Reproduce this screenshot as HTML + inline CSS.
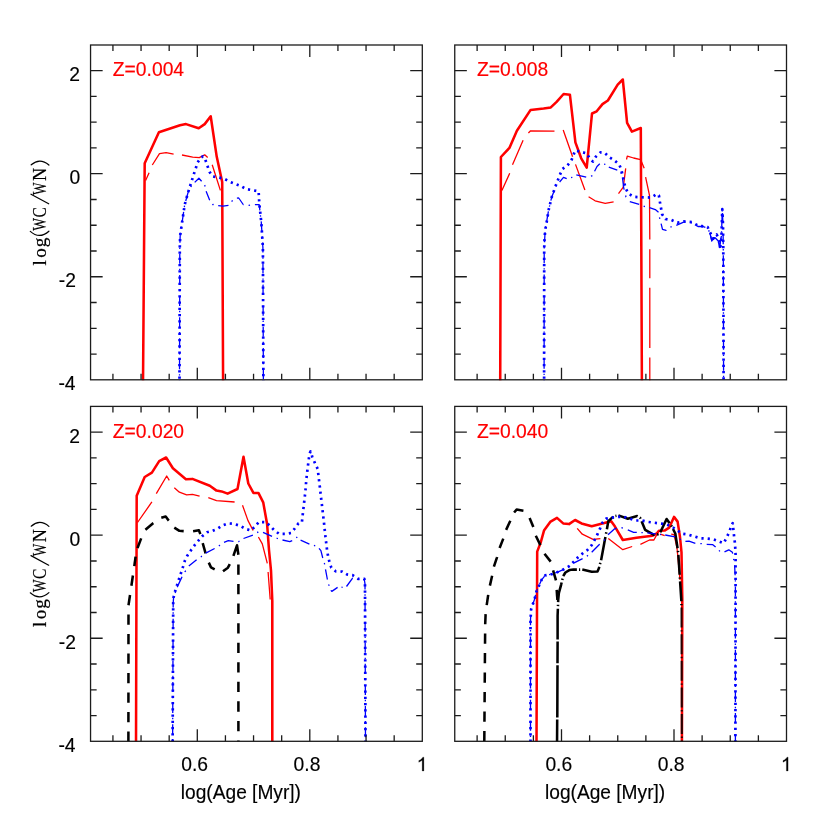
<!DOCTYPE html>
<html><head><meta charset="utf-8"><title>log(WC/WN) vs log(Age)</title>
<style>html,body{margin:0;padding:0;background:#fff}body{width:830px;height:830px;overflow:hidden;font-family:"Liberation Sans",sans-serif}</style></head>
<body>
<svg width="830" height="830" viewBox="0 0 830 830" style="display:block;will-change:transform;font-family:'Liberation Sans',sans-serif">
<rect width="830" height="830" fill="#fff"/>
<defs>
<clipPath id="cp1"><rect x="90.55" y="45.0" width="331.75" height="335.30"/></clipPath>
<clipPath id="cp2"><rect x="454.75" y="45.0" width="331.75" height="335.30"/></clipPath>
<clipPath id="cp3"><rect x="90.55" y="406.4" width="331.75" height="335.40"/></clipPath>
<clipPath id="cp4"><rect x="454.75" y="406.4" width="331.75" height="335.40"/></clipPath>
</defs>
<g clip-path="url(#cp1)">
<path d="M145.6,180.6 L149.1,172.8 M152.3,165.0 L159.5,153.6 L166.1,152.7 L173.6,154.2 M182.0,155.0 L192.7,157.2 L199.3,157.6 L204.7,154.8 L207.7,157.6 M212.2,164.8 L220.4,190.4" fill="none" stroke="#ff0000" stroke-width="1.3" stroke-linejoin="round"/>
<path d="M143.0,385.0 L144.7,163.3 L158.9,132.3 L180.0,125.3 L186.0,124.1 L198.7,128.3 L204.7,124.1 L210.7,116.3 L216.7,156.6 L222.2,181.9 L223.1,385.0" fill="none" stroke="#ff0000" stroke-width="2.55" stroke-linejoin="round"/>
<path d="M179.5,385.0 L179.8,247.0 L180.2,235.2 L182.0,223.0 L184.7,204.7 L188.1,192.4 L191.8,185.0 L194.7,182.4" fill="none" stroke="#0000ff" stroke-width="1.3" stroke-dasharray="10.00 4.90 1.40 4.80" stroke-dashoffset="5.43" stroke-linejoin="round"/><path d="M194.7,182.4 L198.9,178.2 L201.6,181.2 L204.9,185.7 L206.1,191.2" fill="none" stroke="#0000ff" stroke-width="1.3" stroke-dasharray="10.04 4.92 1.41 4.82" stroke-dashoffset="0.00" stroke-linejoin="round"/><path d="M206.1,191.2 L209.8,200.5 L212.8,204.5 L218.2,205.7" fill="none" stroke="#0000ff" stroke-width="1.3" stroke-dasharray="9.73 4.77 1.36 4.67" stroke-dashoffset="0.00" stroke-linejoin="round"/><path d="M218.2,205.7 L223.0,206.2 L229.0,205.3 L232.7,200.2 L236.9,198.1" fill="none" stroke="#0000ff" stroke-width="1.3" stroke-dasharray="10.37 5.08 1.45 4.98" stroke-dashoffset="0.00" stroke-linejoin="round"/><path d="M236.9,198.1 L238.7,198.0 L243.2,204.5 L248.9,205.3 L254.9,204.7" fill="none" stroke="#0000ff" stroke-width="1.3" stroke-dasharray="10.19 4.99 1.43 4.89" stroke-dashoffset="0.00" stroke-linejoin="round"/><path d="M254.9,204.7 L259.2,204.7 L261.3,222.4 L262.9,247.5 L263.4,385.0" fill="none" stroke="#0000ff" stroke-width="1.3" stroke-dasharray="10.00 4.90 1.40 4.80" stroke-dashoffset="0.00" stroke-linejoin="round"/>
<path d="M179.5,385.0 L179.8,247.0 L180.2,235.2 L182.0,223.0 L184.7,204.7 L188.1,192.4 L193.7,174.6 L197.7,162.3 L201.0,157.5 L203.0,156.3 L205.2,159.3 L207.3,165.5 L209.5,171.8 L212.4,176.4 L224.0,178.6 L229.9,181.8 L240.8,186.0 L245.9,189.0 L258.6,191.3 L259.3,203.6 L261.3,222.4 L262.9,247.5 L263.4,385.0" fill="none" stroke="#0000ff" stroke-width="2.7" stroke-dasharray="2.20 4.05" stroke-dashoffset="0.00" stroke-linejoin="round"/>
</g>
<rect x="90.55" y="45.0" width="331.75" height="334.80" fill="none" stroke="#1c1c1c" stroke-width="1.3"/><path d="M394.18,379.8v-6.1M394.18,45.0v6.1M366.05,379.8v-6.1M366.05,45.0v6.1M337.93,379.8v-6.1M337.93,45.0v6.1M309.80,379.8v-12.1M309.80,45.0v12.1M281.68,379.8v-6.1M281.68,45.0v6.1M253.55,379.8v-6.1M253.55,45.0v6.1M225.43,379.8v-6.1M225.43,45.0v6.1M197.30,379.8v-12.1M197.30,45.0v12.1M169.18,379.8v-6.1M169.18,45.0v6.1M141.05,379.8v-6.1M141.05,45.0v6.1M112.93,379.8v-6.1M112.93,45.0v6.1M90.55,354.04h6.1M422.3,354.04h-6.1M90.55,328.28h6.1M422.3,328.28h-6.1M90.55,302.52h6.1M422.3,302.52h-6.1M90.55,276.76h12.1M422.3,276.76h-12.1M90.55,251.00h6.1M422.3,251.00h-6.1M90.55,225.24h6.1M422.3,225.24h-6.1M90.55,199.48h6.1M422.3,199.48h-6.1M90.55,173.72h12.1M422.3,173.72h-12.1M90.55,147.96h6.1M422.3,147.96h-6.1M90.55,122.20h6.1M422.3,122.20h-6.1M90.55,96.44h6.1M422.3,96.44h-6.1M90.55,70.68h12.1M422.3,70.68h-12.1" fill="none" stroke="#1c1c1c" stroke-width="1.3"/>
<text x="112.8" y="76.2" font-size="19.3" fill="#ff0000" stroke="#ff0000" stroke-width="0.15">Z=0.004</text>
<g clip-path="url(#cp2)">
<path d="M501.9,190.6 L509.7,173.3 M512.5,164.8 L523.1,140.2 M528.4,133.0 L530.6,130.8 L554.5,131.1 M563.2,130.0 L572.6,156.7 M575.5,164.4 L584.9,190.0 M588.6,196.8 L595.1,200.8 L605.2,203.3 L613.6,201.9 M618.5,193.6 L623.3,187.1 L625.7,168.3 M626.5,159.5 L627.3,156.2 L633.6,158.0 L640.6,159.6 L644.2,168.3 M645.6,177.1 L649.5,195.4 L649.8,239.4 M649.8,249.2 L649.8,278.2 M649.8,287.7 L649.8,348.0 M649.8,357.5 L649.8,385.0" fill="none" stroke="#ff0000" stroke-width="1.3" stroke-linejoin="round"/>
<path d="M500.2,385.0 L500.9,157.0 L509.4,147.9 L516.9,130.8 L530.6,109.9 L543.6,108.4 L550.8,107.4 L556.6,101.9 L563.6,94.0 L569.9,94.7 L575.4,142.4 L581.2,158.3 L586.7,167.7 L592.0,113.5 L596.7,111.3 L602.5,104.1 L607.9,100.5 L617.7,84.6 L622.8,79.5 L627.1,122.9 L631.9,131.6 L640.8,128.0 L641.9,385.0" fill="none" stroke="#ff0000" stroke-width="2.55" stroke-linejoin="round"/>
<path d="M544.1,385.0 L544.2,248.5 L545.2,229.8 L548.8,209.2 L551.7,197.2 L556.7,184.2 L559.6,182.0" fill="none" stroke="#0000ff" stroke-width="1.3" stroke-dasharray="10.00 4.90 1.40 4.80" stroke-dashoffset="4.95" stroke-linejoin="round"/><path d="M559.6,182.0 L563.5,177.3 L567.6,178.9 L571.9,177.3 L576.3,174.8" fill="none" stroke="#0000ff" stroke-width="1.3" stroke-dasharray="9.55 4.68 1.34 4.59" stroke-dashoffset="0.00" stroke-linejoin="round"/><path d="M576.3,174.8 L587.1,177.4 L591.9,175.8 L594.6,171.2" fill="none" stroke="#0000ff" stroke-width="1.3" stroke-dasharray="10.19 4.99 1.43 4.89" stroke-dashoffset="0.00" stroke-linejoin="round"/><path d="M594.6,171.2 L597.0,166.5 L600.1,163.5 L605.2,164.4 L608.8,167.2" fill="none" stroke="#0000ff" stroke-width="1.3" stroke-dasharray="9.16 4.49 1.28 4.40" stroke-dashoffset="0.00" stroke-linejoin="round"/><path d="M608.8,167.2 L618.2,170.5 L620.5,171.5 L622.5,177.7" fill="none" stroke="#0000ff" stroke-width="1.3" stroke-dasharray="9.00 4.41 1.26 4.32" stroke-dashoffset="0.00" stroke-linejoin="round"/><path d="M622.5,177.7 L623.7,187.8 L626.0,197.0 L629.8,201.6" fill="none" stroke="#0000ff" stroke-width="1.3" stroke-dasharray="12.14 5.95 1.70 5.83" stroke-dashoffset="0.00" stroke-linejoin="round"/><path d="M629.8,201.6 L639.9,204.5 L644.9,206.6 L649.5,207.7" fill="none" stroke="#0000ff" stroke-width="1.3" stroke-dasharray="9.79 4.80 1.37 4.70" stroke-dashoffset="0.00" stroke-linejoin="round"/><path d="M649.5,207.7 L655.3,209.6 L658.2,212.0 L659.6,217.8 L661.1,223.6" fill="none" stroke="#0000ff" stroke-width="1.3" stroke-dasharray="10.34 5.07 1.45 4.96" stroke-dashoffset="0.00" stroke-linejoin="round"/><path d="M661.1,223.6 L662.5,229.4 L666.1,230.4 L671.2,226.8 L676.3,225.3" fill="none" stroke="#0000ff" stroke-width="1.3" stroke-dasharray="10.08 4.94 1.41 4.84" stroke-dashoffset="0.00" stroke-linejoin="round"/><path d="M676.3,225.3 L684.2,221.9 L692.5,222.8 L698.0,226.5 L702.4,226.4 L707.6,228.0 L710.0,233.3 L711.8,240.8 L713.0,238.0 L715.4,238.0 L718.3,241.0 L719.4,247.5 L720.5,241.0 L721.4,236.0 L721.9,222.0 L722.3,209.2 L723.0,225.0 L723.3,250.0 L723.6,385.0" fill="none" stroke="#0000ff" stroke-width="1.3" stroke-dasharray="10.00 4.90 1.40 4.80" stroke-dashoffset="0.00" stroke-linejoin="round"/>
<path d="M544.1,385.0 L544.2,248.5 L544.5,239.9 L545.2,229.8 L546.6,222.5 L548.8,209.2 L551.7,197.2 L555.3,186.8 L559.9,174.8 L562.5,169.0 L566.9,165.9 L570.9,161.5 L572.9,156.7 L575.1,150.5 L580.6,151.7 L586.8,153.4 L590.0,158.9 L592.9,161.5 L595.8,156.7 L600.4,152.4 L604.9,153.1 L609.2,157.2 L614.6,160.6 L619.2,164.4 L621.4,169.8 L622.8,176.3 L625.4,187.8 L628.3,193.6 L633.8,196.8 L640.2,197.2 L651.4,197.6 L656.7,194.0 L658.9,195.4 L659.9,201.9 L662.1,214.2 L665.4,219.0 L671.5,220.0 L677.4,222.6 L683.5,221.4 L692.5,222.2 L698.0,225.8 L701.9,226.1 L707.6,227.2 L710.2,232.7 L713.1,238.8 L716.7,234.5 L719.6,241.0 L720.4,246.7 L721.4,238.0 L721.8,225.0 L722.3,209.2 L723.0,225.0 L723.3,250.0 L723.6,385.0" fill="none" stroke="#0000ff" stroke-width="2.7" stroke-dasharray="2.20 4.05" stroke-dashoffset="0.00" stroke-linejoin="round"/>
<path d="M710.0,233.3 L711.8,240.8 L713.0,238.0 L715.4,238.0 L718.3,241.0 L719.4,247.5 L720.5,241.0 L721.4,236.0" fill="none" stroke="#0000ff" stroke-width="1.3" stroke-linejoin="round"/>
</g>
<rect x="454.75" y="45.0" width="331.75" height="334.80" fill="none" stroke="#1c1c1c" stroke-width="1.3"/><path d="M758.38,379.8v-6.1M758.38,45.0v6.1M730.25,379.8v-6.1M730.25,45.0v6.1M702.12,379.8v-6.1M702.12,45.0v6.1M674.00,379.8v-12.1M674.00,45.0v12.1M645.88,379.8v-6.1M645.88,45.0v6.1M617.75,379.8v-6.1M617.75,45.0v6.1M589.62,379.8v-6.1M589.62,45.0v6.1M561.50,379.8v-12.1M561.50,45.0v12.1M533.38,379.8v-6.1M533.38,45.0v6.1M505.25,379.8v-6.1M505.25,45.0v6.1M477.12,379.8v-6.1M477.12,45.0v6.1M454.75,354.04h6.1M786.5,354.04h-6.1M454.75,328.28h6.1M786.5,328.28h-6.1M454.75,302.52h6.1M786.5,302.52h-6.1M454.75,276.76h12.1M786.5,276.76h-12.1M454.75,251.00h6.1M786.5,251.00h-6.1M454.75,225.24h6.1M786.5,225.24h-6.1M454.75,199.48h6.1M786.5,199.48h-6.1M454.75,173.72h12.1M786.5,173.72h-12.1M454.75,147.96h6.1M786.5,147.96h-6.1M454.75,122.20h6.1M786.5,122.20h-6.1M454.75,96.44h6.1M786.5,96.44h-6.1M454.75,70.68h12.1M786.5,70.68h-12.1" fill="none" stroke="#1c1c1c" stroke-width="1.3"/>
<text x="476.9" y="76.2" font-size="19.3" fill="#ff0000" stroke="#ff0000" stroke-width="0.15">Z=0.008</text>
<g clip-path="url(#cp3)">
<path d="M137.5,522.5 L151.9,501.9 M156.3,493.6 L166.7,476.0 L169.3,480.3 M174.3,487.8 L179.4,492.2 L186.6,494.8 L192.4,494.3 L199.6,496.2 M208.3,497.7 L216.5,500.6 L234.6,502.0 M242.5,505.2 L247.9,520.4 L253.1,530.5 M258.4,537.0 L262.3,543.9 L267.3,563.4 M268.1,572.0 L270.2,599.5" fill="none" stroke="#ff0000" stroke-width="1.3" stroke-linejoin="round"/>
<path d="M136.0,748.0 L136.7,495.8 L144.7,477.0 L151.9,472.6 L159.2,461.1 L166.1,457.5 L172.9,468.3 L185.9,479.2 L192.4,478.9 L209.8,485.7 L216.5,490.6 L221.6,491.4 L227.6,493.6 L237.5,489.0 L243.5,456.7 L248.3,483.5 L253.4,492.9 L258.4,492.9 L263.2,502.3 L267.1,524.0 L269.0,550.0 L271.0,570.6 L272.3,601.0 L272.3,748.0" fill="none" stroke="#ff0000" stroke-width="2.55" stroke-linejoin="round"/>
<path d="M128.4,741.3 L128.5,605.2" fill="none" stroke="#000000" stroke-width="2.55" stroke-dasharray="10.20 9.30" stroke-dashoffset="0.40" stroke-linejoin="round"/><path d="M128.5,605.2 L130.0,595.1 L131.4,585.7" fill="none" stroke="#000000" stroke-width="2.55" stroke-dasharray="10.31 9.40" stroke-dashoffset="0.00" stroke-linejoin="round"/><path d="M131.4,585.7 L134.3,566.1" fill="none" stroke="#000000" stroke-width="2.55" stroke-dasharray="10.36 9.45" stroke-dashoffset="0.00" stroke-linejoin="round"/><path d="M134.3,566.1 L135.7,556.0 L137.5,548.1" fill="none" stroke="#000000" stroke-width="2.55" stroke-dasharray="9.57 8.73" stroke-dashoffset="0.00" stroke-linejoin="round"/><path d="M137.5,548.1 L141.3,538.0 L145.4,529.8" fill="none" stroke="#000000" stroke-width="2.55" stroke-dasharray="10.44 9.52" stroke-dashoffset="0.00" stroke-linejoin="round"/><path d="M145.4,529.8 L153.1,523.3 L161.3,517.8" fill="none" stroke="#000000" stroke-width="2.55" stroke-dasharray="10.44 9.51" stroke-dashoffset="0.00" stroke-linejoin="round"/><path d="M161.3,517.8 L165.7,516.5 L168.6,520.4 L174.3,527.6" fill="none" stroke="#000000" stroke-width="2.55" stroke-dasharray="9.75 8.89" stroke-dashoffset="0.00" stroke-linejoin="round"/><path d="M174.3,527.6 L179.4,530.8 L184.5,531.2 L193.1,531.2" fill="none" stroke="#000000" stroke-width="2.55" stroke-dasharray="10.32 9.41" stroke-dashoffset="0.00" stroke-linejoin="round"/><path d="M193.1,531.2 L198.9,530.2 L200.4,534.3 L202.7,543.1" fill="none" stroke="#000000" stroke-width="2.55" stroke-dasharray="10.12 9.23" stroke-dashoffset="0.00" stroke-linejoin="round"/><path d="M202.7,543.1 L205.6,553.3 L208.8,562.6" fill="none" stroke="#000000" stroke-width="2.55" stroke-dasharray="10.69 9.75" stroke-dashoffset="0.00" stroke-linejoin="round"/><path d="M208.8,562.6 L211.0,567.4 L214.9,569.4 L223.0,571.3" fill="none" stroke="#000000" stroke-width="2.55" stroke-dasharray="9.41 8.58" stroke-dashoffset="0.00" stroke-linejoin="round"/><path d="M223.0,571.3 L227.9,567.7 L229.8,564.1" fill="none" stroke="#000000" stroke-width="2.55" stroke-dasharray="10.20 9.30" stroke-dashoffset="0.00" stroke-linejoin="round"/>
<path d="M233.4,555.9 L237.0,545.3 L238.4,554.7" fill="none" stroke="#000000" stroke-width="2.55" stroke-linejoin="round"/>
<path d="M238.4,564.5 L238.4,748.0" fill="none" stroke="#000000" stroke-width="2.55" stroke-dasharray="10.30 9.25" stroke-dashoffset="0.00" stroke-linejoin="round"/>
<path d="M172.6,748.0 L173.2,603.0 L173.6,597.2 L177.2,587.1" fill="none" stroke="#0000ff" stroke-width="1.3" stroke-dasharray="10.00 4.90 1.40 4.80" stroke-dashoffset="7.26" stroke-linejoin="round"/><path d="M177.2,587.1 L182.3,576.3 L184.9,571.9 L188.8,566.1" fill="none" stroke="#0000ff" stroke-width="1.3" stroke-dasharray="11.40 5.58 1.60 5.47" stroke-dashoffset="0.00" stroke-linejoin="round"/><path d="M188.8,566.1 L196.7,559.6 L201.1,556.7 L205.7,553.1" fill="none" stroke="#0000ff" stroke-width="1.3" stroke-dasharray="10.11 4.96 1.42 4.85" stroke-dashoffset="0.00" stroke-linejoin="round"/><path d="M205.7,553.1 L216.3,547.6 L219.9,545.2 L224.0,542.4" fill="none" stroke="#0000ff" stroke-width="1.3" stroke-dasharray="10.06 4.93 1.41 4.83" stroke-dashoffset="0.00" stroke-linejoin="round"/><path d="M224.0,542.4 L228.3,540.7 L233.4,541.4 L238.4,541.7 L243.5,538.5" fill="none" stroke="#0000ff" stroke-width="1.3" stroke-dasharray="9.86 4.83 1.38 4.73" stroke-dashoffset="0.00" stroke-linejoin="round"/><path d="M243.5,538.5 L254.3,534.5 L258.7,531.6 L263.0,532.3" fill="none" stroke="#0000ff" stroke-width="1.3" stroke-dasharray="10.02 4.91 1.40 4.81" stroke-dashoffset="0.00" stroke-linejoin="round"/><path d="M263.0,532.3 L272.4,536.6 L277.5,538.5 L282.5,540.0" fill="none" stroke="#0000ff" stroke-width="1.3" stroke-dasharray="9.95 4.88 1.39 4.78" stroke-dashoffset="0.00" stroke-linejoin="round"/><path d="M282.5,540.0 L289.8,541.7 L293.4,540.2 L297.5,536.8 L300.6,540.2" fill="none" stroke="#0000ff" stroke-width="1.3" stroke-dasharray="10.11 4.95 1.41 4.85" stroke-dashoffset="0.00" stroke-linejoin="round"/><path d="M300.6,540.2 L310.4,544.5 L315.4,545.8 L319.0,548.4" fill="none" stroke="#0000ff" stroke-width="1.3" stroke-dasharray="9.63 4.72 1.35 4.62" stroke-dashoffset="0.00" stroke-linejoin="round"/><path d="M319.0,548.4 L320.9,550.6 L322.9,558.6 L324.5,563.6 L325.5,569.4" fill="none" stroke="#0000ff" stroke-width="1.3" stroke-dasharray="10.56 5.18 1.48 5.07" stroke-dashoffset="0.00" stroke-linejoin="round"/><path d="M325.5,569.4 L327.4,579.5 L328.9,585.0 L330.9,590.4" fill="none" stroke="#0000ff" stroke-width="1.3" stroke-dasharray="10.30 5.05 1.44 4.94" stroke-dashoffset="0.00" stroke-linejoin="round"/><path d="M330.9,590.4 L331.8,591.4 L338.6,586.7 L343.6,587.5 L346.5,586.5" fill="none" stroke="#0000ff" stroke-width="1.3" stroke-dasharray="8.41 4.12 1.18 4.04" stroke-dashoffset="0.00" stroke-linejoin="round"/><path d="M346.5,586.5 L352.6,578.1 L358.1,579.2 L364.3,579.5" fill="none" stroke="#0000ff" stroke-width="1.3" stroke-dasharray="10.52 5.15 1.47 5.05" stroke-dashoffset="0.00" stroke-linejoin="round"/><path d="M364.3,579.5 L365.0,583.9 L365.5,748.0" fill="none" stroke="#0000ff" stroke-width="1.3" stroke-dasharray="10.00 4.90 1.40 4.80" stroke-dashoffset="0.00" stroke-linejoin="round"/>
<path d="M172.6,748.0 L173.2,603.0 L173.6,597.2 L175.3,590.7 L179.1,578.7 L183.0,566.9 L184.9,560.7 L187.3,555.7 L191.0,550.2 L194.6,545.2 L198.2,540.8 L202.5,536.0 L207.2,532.2 L212.6,530.8 L217.5,528.8 L222.5,525.4 L228.1,523.4 L233.7,523.8 L240.2,525.8 L245.8,529.0 L251.0,530.5 L255.1,526.3 L258.9,521.9 L265.7,522.2 L270.1,525.8 L274.3,530.3 L279.2,533.9 L285.0,533.9 L291.1,533.0 L295.0,528.2 L298.5,523.2 L301.9,522.1 L302.5,516.5 L304.0,503.7 L305.4,491.2 L306.4,478.7 L307.9,466.1 L309.5,453.9 L310.5,451.4 L312.4,457.2 L315.1,463.5 L317.7,469.0 L318.4,475.1 L319.9,487.4 L321.3,499.8 L322.8,512.4 L324.2,524.7 L325.5,537.2 L327.0,549.6 L328.0,555.7 L329.4,561.9 L331.3,567.7 L335.7,571.3 L342.2,571.6 L347.2,574.5 L352.6,575.2 L358.1,578.8 L364.3,578.8 L365.0,583.9 L365.5,748.0" fill="none" stroke="#0000ff" stroke-width="2.7" stroke-dasharray="2.20 4.05" stroke-dashoffset="0.00" stroke-linejoin="round"/>
</g>
<rect x="90.55" y="406.4" width="331.75" height="334.90" fill="none" stroke="#1c1c1c" stroke-width="1.3"/><path d="M394.18,741.3v-6.1M394.18,406.4v6.1M366.05,741.3v-6.1M366.05,406.4v6.1M337.93,741.3v-6.1M337.93,406.4v6.1M309.80,741.3v-12.1M309.80,406.4v12.1M281.68,741.3v-6.1M281.68,406.4v6.1M253.55,741.3v-6.1M253.55,406.4v6.1M225.43,741.3v-6.1M225.43,406.4v6.1M197.30,741.3v-12.1M197.30,406.4v12.1M169.18,741.3v-6.1M169.18,406.4v6.1M141.05,741.3v-6.1M141.05,406.4v6.1M112.93,741.3v-6.1M112.93,406.4v6.1M90.55,715.54h6.1M422.3,715.54h-6.1M90.55,689.78h6.1M422.3,689.78h-6.1M90.55,664.02h6.1M422.3,664.02h-6.1M90.55,638.26h12.1M422.3,638.26h-12.1M90.55,612.50h6.1M422.3,612.50h-6.1M90.55,586.74h6.1M422.3,586.74h-6.1M90.55,560.98h6.1M422.3,560.98h-6.1M90.55,535.22h12.1M422.3,535.22h-12.1M90.55,509.46h6.1M422.3,509.46h-6.1M90.55,483.70h6.1M422.3,483.70h-6.1M90.55,457.94h6.1M422.3,457.94h-6.1M90.55,432.18h12.1M422.3,432.18h-12.1" fill="none" stroke="#1c1c1c" stroke-width="1.3"/>
<text x="112.8" y="437.6" font-size="19.3" fill="#ff0000" stroke="#ff0000" stroke-width="0.15">Z=0.020</text>
<g clip-path="url(#cp4)">
<path d="M577.2,528.4 L582.3,534.2 L593.1,539.3 L600.4,538.6 M608.3,538.6 L622.8,549.7 L632.2,546.5 M640.4,544.3 L649.5,540.0 L653.9,540.0 L656.7,534.9 L658.5,533.2 M660.4,534.2 L664.7,535.7 M671.2,534.2 L674.1,534.6 L677.0,548.0 L680.0,580.0" fill="none" stroke="#ff0000" stroke-width="1.3" stroke-linejoin="round"/>
<path d="M536.5,748.0 L537.2,551.6 L540.8,542.2 L544.0,530.6 L550.2,521.9 L557.0,517.9 L563.2,523.4 L569.0,524.1 L575.1,520.0 L581.5,523.4 L591.7,526.3 L600.4,524.1 L611.2,521.2 L614.8,526.3 L622.8,540.0 L636.5,537.8 L652.4,535.7 L656.7,533.5 L658.9,530.8 L664.6,530.6 L669.2,527.7 L674.0,516.9 L677.6,521.6 L680.0,537.0 L681.5,552.3 L682.3,600.0 L681.9,748.0" fill="none" stroke="#ff0000" stroke-width="2.55" stroke-linejoin="round"/>
<path d="M484.3,741.3 L484.9,660.0 L485.2,624.2" fill="none" stroke="#000000" stroke-width="2.55" stroke-dasharray="10.20 9.30" stroke-dashoffset="19.40" stroke-linejoin="round"/><path d="M485.2,624.2 L485.6,614.5 L486.7,605.1" fill="none" stroke="#000000" stroke-width="2.55" stroke-dasharray="10.03 9.14" stroke-dashoffset="0.00" stroke-linejoin="round"/><path d="M486.7,605.1 L488.2,594.9 L489.9,585.6" fill="none" stroke="#000000" stroke-width="2.55" stroke-dasharray="10.34 9.43" stroke-dashoffset="0.00" stroke-linejoin="round"/><path d="M489.9,585.6 L492.2,575.4 L493.9,566.7" fill="none" stroke="#000000" stroke-width="2.55" stroke-dasharray="10.11 9.21" stroke-dashoffset="0.00" stroke-linejoin="round"/><path d="M493.9,566.7 L497.0,557.3 L499.6,548.0" fill="none" stroke="#000000" stroke-width="2.55" stroke-dasharray="10.23 9.33" stroke-dashoffset="0.00" stroke-linejoin="round"/><path d="M499.6,548.0 L503.3,538.6 L506.1,529.9" fill="none" stroke="#000000" stroke-width="2.55" stroke-dasharray="10.06 9.18" stroke-dashoffset="0.00" stroke-linejoin="round"/><path d="M506.1,529.9 L510.5,520.5 L514.1,512.5" fill="none" stroke="#000000" stroke-width="2.55" stroke-dasharray="10.02 9.13" stroke-dashoffset="0.00" stroke-linejoin="round"/><path d="M514.1,512.5 L516.6,509.6 L524.6,510.9 L529.6,517.9" fill="none" stroke="#000000" stroke-width="2.55" stroke-dasharray="10.74 9.79" stroke-dashoffset="0.00" stroke-linejoin="round"/><path d="M529.6,517.9 L533.6,527.7 L535.8,535.7" fill="none" stroke="#000000" stroke-width="2.55" stroke-dasharray="9.88 9.01" stroke-dashoffset="0.00" stroke-linejoin="round"/><path d="M535.8,535.7 L540.4,545.1 L544.5,553.7" fill="none" stroke="#000000" stroke-width="2.55" stroke-dasharray="10.46 9.53" stroke-dashoffset="0.00" stroke-linejoin="round"/><path d="M544.5,553.7 L551.3,562.4 L553.1,570.4" fill="none" stroke="#000000" stroke-width="2.55" stroke-dasharray="10.07 9.18" stroke-dashoffset="0.00" stroke-linejoin="round"/><path d="M553.1,570.4 L556.0,580.5 L556.7,589.9" fill="none" stroke="#000000" stroke-width="2.55" stroke-dasharray="10.43 9.51" stroke-dashoffset="0.00" stroke-linejoin="round"/><path d="M556.7,589.9 L557.4,600.0" fill="none" stroke="#000000" stroke-width="2.55" stroke-dasharray="10.20 9.30" stroke-dashoffset="0.00" stroke-linejoin="round"/>
<path d="M557.0,748 L557.2,719.6 M557.3,717.6 L557.5,665.3 M557.5,663.3 L557.6,641.5 M557.6,639.5 L557.6,616" fill="none" stroke="#000" stroke-width="2.55"/>
<path d="M557.6,616.0 L558.2,600.0 L558.9,592.8 L561.1,584.8 L563.2,576.1" fill="none" stroke="#000000" stroke-width="2.55" stroke-dasharray="20.00 2.60 1.40 2.60" stroke-dashoffset="12.71" stroke-linejoin="round"/><path d="M563.2,576.1 L565.4,572.5 L569.8,569.9 L573.4,569.6 L577.7,569.6 L582.3,569.6" fill="none" stroke="#000000" stroke-width="2.55" stroke-dasharray="16.42 2.13 1.15 2.13" stroke-dashoffset="0.00" stroke-linejoin="round"/><path d="M582.3,569.6 L591.7,571.8 L597.5,571.4 L598.9,568.2 L599.6,565.3 L601.1,560.2" fill="none" stroke="#000000" stroke-width="2.55" stroke-dasharray="20.50 2.66 1.43 2.66" stroke-dashoffset="0.00" stroke-linejoin="round"/><path d="M601.1,560.2 L604.7,540.7 L605.6,536.0 L606.9,529.2" fill="none" stroke="#000000" stroke-width="2.55" stroke-dasharray="23.71 3.08 1.66 3.08" stroke-dashoffset="0.00" stroke-linejoin="round"/><path d="M606.9,529.2 L608.3,521.2 L611.9,517.9 L614.8,516.1 L618.4,515.4" fill="none" stroke="#000000" stroke-width="2.55" stroke-dasharray="15.10 1.96 1.06 1.96" stroke-dashoffset="0.00" stroke-linejoin="round"/><path d="M618.4,515.4 L627.8,518.7 L637.2,516.1 L640.1,517.9 L641.6,521.2" fill="none" stroke="#000000" stroke-width="2.55" stroke-dasharray="20.12 2.62 1.41 2.62" stroke-dashoffset="0.00" stroke-linejoin="round"/><path d="M641.6,521.2 L645.2,529.9 L653.9,534.9 L658.2,534.2 L660.8,531.3 L666.6,519.0 L671.7,526.3 L675.3,533.5 L678.2,552.3 L680.0,580.0 L681.3,600.0 L681.5,607.6" fill="none" stroke="#000000" stroke-width="2.55" stroke-dasharray="20.00 2.60 1.40 2.60" stroke-dashoffset="0.00" stroke-linejoin="round"/>
<path d="M681.5,607.6 L681.9,748.0" fill="none" stroke-opacity="0.85" stroke="#000000" stroke-width="2.1" stroke-dasharray="20.00 2.60 1.40 2.60" stroke-dashoffset="0.00" stroke-linejoin="round"/>
<path d="M530.5,748.0 L530.5,619.8 L531.2,608.9 L534.3,600.0 L536.5,591.3 L541.6,579.8 L545.2,575.4 L552.4,574.0 L558.2,571.8 L563.2,569.6 L569.0,566.5 L573.6,563.1" fill="none" stroke="#0000ff" stroke-width="1.3" stroke-dasharray="10.00 4.90 1.40 4.80" stroke-dashoffset="3.92" stroke-linejoin="round"/><path d="M573.6,563.1 L583.7,558.1 L587.3,555.9 L591.7,552.3" fill="none" stroke="#0000ff" stroke-width="1.3" stroke-dasharray="10.04 4.92 1.40 4.82" stroke-dashoffset="0.00" stroke-linejoin="round"/><path d="M591.7,552.3 L599.6,544.3 L604.0,540.7 L608.0,534.7" fill="none" stroke="#0000ff" stroke-width="1.3" stroke-dasharray="11.44 5.61 1.60 5.49" stroke-dashoffset="0.00" stroke-linejoin="round"/><path d="M608.0,534.7 L614.1,529.2 L619.2,527.0 L623.5,528.4 L627.8,529.9" fill="none" stroke="#0000ff" stroke-width="1.3" stroke-dasharray="10.83 5.30 1.52 5.20" stroke-dashoffset="0.00" stroke-linejoin="round"/><path d="M627.8,529.9 L633.6,532.3 L647.3,532.8" fill="none" stroke="#0000ff" stroke-width="1.3" stroke-dasharray="9.47 4.64 1.33 4.55" stroke-dashoffset="0.00" stroke-linejoin="round"/><path d="M647.3,532.8 L664.0,534.9 L665.2,535.0" fill="none" stroke="#0000ff" stroke-width="1.3" stroke-dasharray="8.55 4.19 1.20 4.10" stroke-dashoffset="0.00" stroke-linejoin="round"/><path d="M665.2,535.0 L676.3,537.1 L680.4,539.3 L685.4,541.4" fill="none" stroke="#0000ff" stroke-width="1.3" stroke-dasharray="10.13 4.96 1.42 4.86" stroke-dashoffset="0.00" stroke-linejoin="round"/><path d="M685.4,541.4 L689.0,541.2 L696.0,543.6 L701.3,543.6 L706.7,544.3" fill="none" stroke="#0000ff" stroke-width="1.3" stroke-dasharray="10.31 5.05 1.44 4.95" stroke-dashoffset="0.00" stroke-linejoin="round"/><path d="M706.7,544.3 L712.5,544.6 L716.5,547.7 L720.1,551.6 L724.5,551.9" fill="none" stroke="#0000ff" stroke-width="1.3" stroke-dasharray="9.76 4.78 1.37 4.68" stroke-dashoffset="0.00" stroke-linejoin="round"/><path d="M724.5,551.9 L728.8,549.8 L732.4,552.3 L733.6,558.8 L734.6,565.3" fill="none" stroke="#0000ff" stroke-width="1.3" stroke-dasharray="10.59 5.19 1.48 5.09" stroke-dashoffset="0.00" stroke-linejoin="round"/><path d="M734.6,565.3 L735.4,580.0 L735.4,748.0" fill="none" stroke="#0000ff" stroke-width="1.3" stroke-dasharray="10.00 4.90 1.40 4.80" stroke-dashoffset="0.00" stroke-linejoin="round"/>
<path d="M530.5,748.0 L530.5,619.8 L531.2,608.9 L534.3,600.0 L536.5,591.3 L539.1,585.5 L541.6,579.8 L545.2,575.4 L552.4,574.0 L558.2,571.8 L563.2,569.6 L569.0,566.3 L573.4,562.1 L578.0,557.3 L582.3,553.7 L587.3,550.1 L591.7,545.1 L594.6,540.0 L597.5,534.2 L600.4,527.7 L602.5,522.6 L606.1,518.7 L611.9,517.6 L618.4,516.9 L624.2,516.9 L630.0,518.7 L635.8,520.5 L641.6,520.5 L648.1,521.9 L659.6,523.4 L665.4,524.1 L671.9,526.6 L677.6,530.6 L682.5,533.8 L688.3,534.6 L694.1,536.4 L700.6,538.3 L706.8,538.6 L713.2,539.3 L719.1,541.4 L723.7,543.2 L726.6,537.8 L729.5,531.3 L731.7,524.8 L732.7,523.1 L733.4,529.9 L734.1,536.4 L734.9,542.9 L735.3,548.7 L735.6,555.2 L735.4,748.0" fill="none" stroke="#0000ff" stroke-width="2.7" stroke-dasharray="2.20 4.05" stroke-dashoffset="0.00" stroke-linejoin="round"/>
</g>
<rect x="454.75" y="406.4" width="331.75" height="334.90" fill="none" stroke="#1c1c1c" stroke-width="1.3"/><path d="M758.38,741.3v-6.1M758.38,406.4v6.1M730.25,741.3v-6.1M730.25,406.4v6.1M702.12,741.3v-6.1M702.12,406.4v6.1M674.00,741.3v-12.1M674.00,406.4v12.1M645.88,741.3v-6.1M645.88,406.4v6.1M617.75,741.3v-6.1M617.75,406.4v6.1M589.62,741.3v-6.1M589.62,406.4v6.1M561.50,741.3v-12.1M561.50,406.4v12.1M533.38,741.3v-6.1M533.38,406.4v6.1M505.25,741.3v-6.1M505.25,406.4v6.1M477.12,741.3v-6.1M477.12,406.4v6.1M454.75,715.54h6.1M786.5,715.54h-6.1M454.75,689.78h6.1M786.5,689.78h-6.1M454.75,664.02h6.1M786.5,664.02h-6.1M454.75,638.26h12.1M786.5,638.26h-12.1M454.75,612.50h6.1M786.5,612.50h-6.1M454.75,586.74h6.1M786.5,586.74h-6.1M454.75,560.98h6.1M786.5,560.98h-6.1M454.75,535.22h12.1M786.5,535.22h-12.1M454.75,509.46h6.1M786.5,509.46h-6.1M454.75,483.70h6.1M786.5,483.70h-6.1M454.75,457.94h6.1M786.5,457.94h-6.1M454.75,432.18h12.1M786.5,432.18h-12.1" fill="none" stroke="#1c1c1c" stroke-width="1.3"/>
<text x="476.9" y="437.6" font-size="19.3" fill="#ff0000" stroke="#ff0000" stroke-width="0.15">Z=0.040</text>
<text x="80.1" y="81.0" font-size="19.3" text-anchor="end" fill="#000" stroke="#000" stroke-width="0.15">2</text>
<text x="80.3" y="184.0" font-size="19.3" text-anchor="end" fill="#000" stroke="#000" stroke-width="0.15">0</text>
<text x="75.9" y="287.1" font-size="19.3" text-anchor="end" fill="#000" stroke="#000" stroke-width="0.15">-2</text>
<text x="75.6" y="390.1" font-size="19.3" text-anchor="end" fill="#000" stroke="#000" stroke-width="0.15">-4</text>
<text x="80.1" y="442.5" font-size="19.3" text-anchor="end" fill="#000" stroke="#000" stroke-width="0.15">2</text>
<text x="80.3" y="545.5" font-size="19.3" text-anchor="end" fill="#000" stroke="#000" stroke-width="0.15">0</text>
<text x="75.9" y="648.6" font-size="19.3" text-anchor="end" fill="#000" stroke="#000" stroke-width="0.15">-2</text>
<text x="75.6" y="751.6" font-size="19.3" text-anchor="end" fill="#000" stroke="#000" stroke-width="0.15">-4</text>
<text x="194.6" y="771.0" font-size="19.3" text-anchor="middle" fill="#000" stroke="#000" stroke-width="0.15">0.6</text>
<text x="307.0" y="771.0" font-size="19.3" text-anchor="middle" fill="#000" stroke="#000" stroke-width="0.15">0.8</text>
<path transform="translate(416.7,771.0) scale(0.00942)" d="M763 0H583V-1147Q518 -1085 412.5 -1023T223 -930V-1104Q374 -1175 487 -1276T647 -1472H763Z" fill="#000" stroke="#000" stroke-width="25"/>
<text x="180.8" y="799.4" font-size="19.3" textLength="120.2" lengthAdjust="spacingAndGlyphs" fill="#000" stroke="#000" stroke-width="0.15">log(Age [Myr])</text>
<text x="558.8" y="771.0" font-size="19.3" text-anchor="middle" fill="#000" stroke="#000" stroke-width="0.15">0.6</text>
<text x="671.2" y="771.0" font-size="19.3" text-anchor="middle" fill="#000" stroke="#000" stroke-width="0.15">0.8</text>
<path transform="translate(780.9,771.0) scale(0.00942)" d="M763 0H583V-1147Q518 -1085 412.5 -1023T223 -930V-1104Q374 -1175 487 -1276T647 -1472H763Z" fill="#000" stroke="#000" stroke-width="25"/>
<text x="545.0" y="799.4" font-size="19.3" textLength="120.2" lengthAdjust="spacingAndGlyphs" fill="#000" stroke="#000" stroke-width="0.15">log(Age [Myr])</text>
<text transform="translate(46,262.9) rotate(-90) scale(1.0,1)" font-family="'Liberation Serif',serif" font-size="19" text-anchor="middle" fill="#000" stroke="#000" stroke-width="0.2">l</text>
<text transform="translate(46,253.0) rotate(-90) scale(1.0,1)" font-family="'Liberation Serif',serif" font-size="19" text-anchor="middle" fill="#000" stroke="#000" stroke-width="0.2">o</text>
<text transform="translate(46,242.4) rotate(-90) scale(1.02,1)" font-family="'Liberation Serif',serif" font-size="19" text-anchor="middle" fill="#000" stroke="#000" stroke-width="0.2">g</text>
<text transform="translate(46,224.5) rotate(-90) scale(0.71,1)" font-family="'Liberation Serif',serif" font-size="19" text-anchor="middle" fill="#000" stroke="#000" stroke-width="0.2">W</text>
<text transform="translate(46,212.3) rotate(-90) scale(0.82,1)" font-family="'Liberation Serif',serif" font-size="19" text-anchor="middle" fill="#000" stroke="#000" stroke-width="0.2">C</text>
<text transform="translate(46,188.7) rotate(-90) scale(0.7,1)" font-family="'Liberation Serif',serif" font-size="19" text-anchor="middle" fill="#000" stroke="#000" stroke-width="0.2">W</text>
<text transform="translate(46,174.3) rotate(-90) scale(0.96,1)" font-family="'Liberation Serif',serif" font-size="19" text-anchor="middle" fill="#000" stroke="#000" stroke-width="0.2">N</text>
<path d="M30.3,231.4 Q39.5,239.6 48.9,231.2" fill="none" stroke="#000" stroke-width="1.25" stroke-linecap="round"/>
<path d="M31.2,164.8 Q39.8,157.2 48.9,165.0" fill="none" stroke="#000" stroke-width="1.25" stroke-linecap="round"/>
<path d="M48.7,203.8 L31.0,194.2" fill="none" stroke="#000" stroke-width="1.2" stroke-linecap="round"/>
<text transform="translate(46,624.3) rotate(-90) scale(1.0,1)" font-family="'Liberation Serif',serif" font-size="19" text-anchor="middle" fill="#000" stroke="#000" stroke-width="0.2">l</text>
<text transform="translate(46,614.4) rotate(-90) scale(1.0,1)" font-family="'Liberation Serif',serif" font-size="19" text-anchor="middle" fill="#000" stroke="#000" stroke-width="0.2">o</text>
<text transform="translate(46,603.8) rotate(-90) scale(1.02,1)" font-family="'Liberation Serif',serif" font-size="19" text-anchor="middle" fill="#000" stroke="#000" stroke-width="0.2">g</text>
<text transform="translate(46,585.9) rotate(-90) scale(0.71,1)" font-family="'Liberation Serif',serif" font-size="19" text-anchor="middle" fill="#000" stroke="#000" stroke-width="0.2">W</text>
<text transform="translate(46,573.7) rotate(-90) scale(0.82,1)" font-family="'Liberation Serif',serif" font-size="19" text-anchor="middle" fill="#000" stroke="#000" stroke-width="0.2">C</text>
<text transform="translate(46,550.1) rotate(-90) scale(0.7,1)" font-family="'Liberation Serif',serif" font-size="19" text-anchor="middle" fill="#000" stroke="#000" stroke-width="0.2">W</text>
<text transform="translate(46,535.7) rotate(-90) scale(0.96,1)" font-family="'Liberation Serif',serif" font-size="19" text-anchor="middle" fill="#000" stroke="#000" stroke-width="0.2">N</text>
<path d="M30.3,592.8 Q39.5,601.0 48.9,592.6" fill="none" stroke="#000" stroke-width="1.25" stroke-linecap="round"/>
<path d="M31.2,526.2 Q39.8,518.6 48.9,526.4" fill="none" stroke="#000" stroke-width="1.25" stroke-linecap="round"/>
<path d="M48.7,565.2 L31.0,555.6" fill="none" stroke="#000" stroke-width="1.2" stroke-linecap="round"/>
</svg>
</body></html>
